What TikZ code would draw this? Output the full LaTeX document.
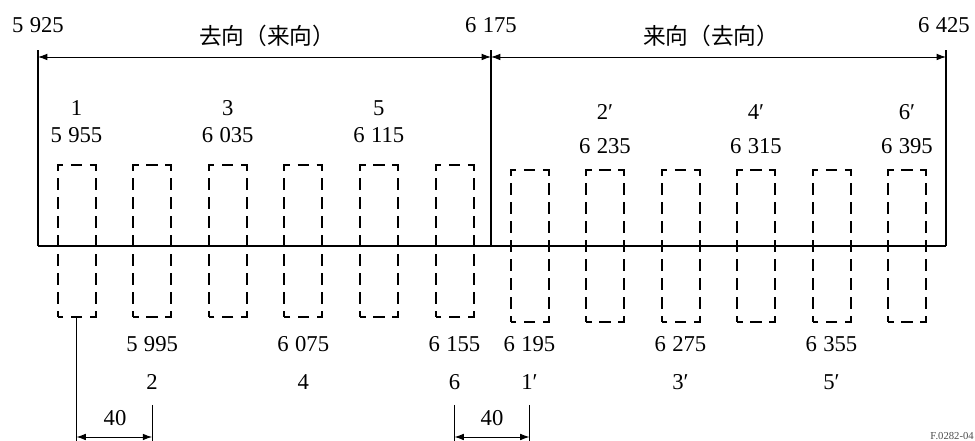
\documentclass[tikz,border=0pt]{standalone}
\usepackage{fontspec}
\setmainfont{Liberation Serif}
\newfontfamily\cjkfont{Noto Sans CJK SC}
\usetikzlibrary{arrows.meta}

\tikzset{
  chanbox/.style={line width=1.5pt, dash pattern=on 8.55pt off 5.7pt, dash phase=4.275pt},
  dimarrow/.style={{Latex[length=7pt,width=5pt]}-{Latex[length=7pt,width=5pt]}, line width=0.7pt},
  lbl/.style={font=\fontsize{17}{17}\selectfont, inner sep=0pt},
  dirlbl/.style={font=\cjkfont\fontsize{17}{17}\selectfont, inner sep=0pt},
}
\newcommand{\gs}{\hspace{0.28em}}

\begin{document}
\begin{tikzpicture}[x=0.75pt,y=0.75pt]
\useasboundingbox (0,0) rectangle (975,441);
% band edges and main axis
\coordinate (e0) at (38,195);
\coordinate (e1) at (491,195);
\coordinate (e2) at (946,195);
\draw[line width=1.4pt] (e0) -- (e2);
\foreach \k in {0,1,2}{
    \draw[line width=1pt] (e\k) -- ++(0,196) coordinate (t\k);
}
\coordinate (a0) at (38,384);
\coordinate (a1) at (491,384);
\coordinate (a2) at (946,384);
\draw[dimarrow] (a0) -- (a1);
\draw[dimarrow] (a1) -- (a2);
\node[lbl] (f0) at (38,416) {5\gs925};
\node[lbl] (f1) at (491,416) {6\gs175};
\node[lbl] (f2) at (944,416) {6\gs425};
\node[dirlbl] (dirA) at (267,405) {去向（来向）};
\node[dirlbl] (dirB) at (711,405) {来向（去向）};
% channel boxes
\foreach \i in {0,...,5}{
    \draw[chanbox] ({57.5+75.6*\i},124) rectangle ++(38,152);
    \draw[chanbox] ({510.5+75.5*\i},119) rectangle ++(38,152);
}
\foreach \i/\n/\f in {0/1/5\gs955,2/3/6\gs035,4/5/6\gs115}{
    \node[lbl] (n\n) at ({76.5+75.6*\i},333) {\n};
    \node[lbl] (g\n) at ({76.5+75.6*\i},306) {\f};
}
\foreach \i/\n/\f in {1/2/5\gs995,3/4/6\gs075,5/6/6\gs155}{
    \node[lbl] (n\n) at ({76.5+75.6*\i},59) {\n};
    \node[lbl] (g\n) at ({76.5+75.6*\i},97) {\f};
}
\foreach \i/\n/\f in {1/2/6\gs235,3/4/6\gs315,5/6/6\gs395}{
    \node[lbl] (m\n) at ({529.5+75.5*\i},329) {\n′};
    \node[lbl] (h\n) at ({529.5+75.5*\i},295) {\f};
}
\foreach \i/\n/\f in {0/1/6\gs195,2/3/6\gs275,4/5/6\gs355}{
    \node[lbl] (m\n) at ({529.5+75.5*\i},59) {\n′};
    \node[lbl] (h\n) at ({529.5+75.5*\i},97) {\f};
}
% 40 spacing
\coordinate (c1) at (76.5,124);
\coordinate (c2) at (152.1,36);
\coordinate (c3) at (454.5,36);
\coordinate (c4) at (529.5,36);
\foreach \k in {1,2,3,4}{
    \draw[line width=0.8pt] (c\k) -- (c\k |- 0,0) coordinate (z\k);
}
\draw[dimarrow] (c1 |- 0,4) -- (c2 |- 0,4);
\draw[dimarrow] (c3 |- 0,4) -- (c4 |- 0,4);
\node[lbl] (w1) at (115,23) {40};
\node[lbl] (w2) at (492,23) {40};
\node[font=\fontsize{8}{8}\selectfont, text=black!70, anchor=south east, inner sep=0pt] (figid) at (974,1) {F.0282-04};
\end{tikzpicture}
\end{document}
